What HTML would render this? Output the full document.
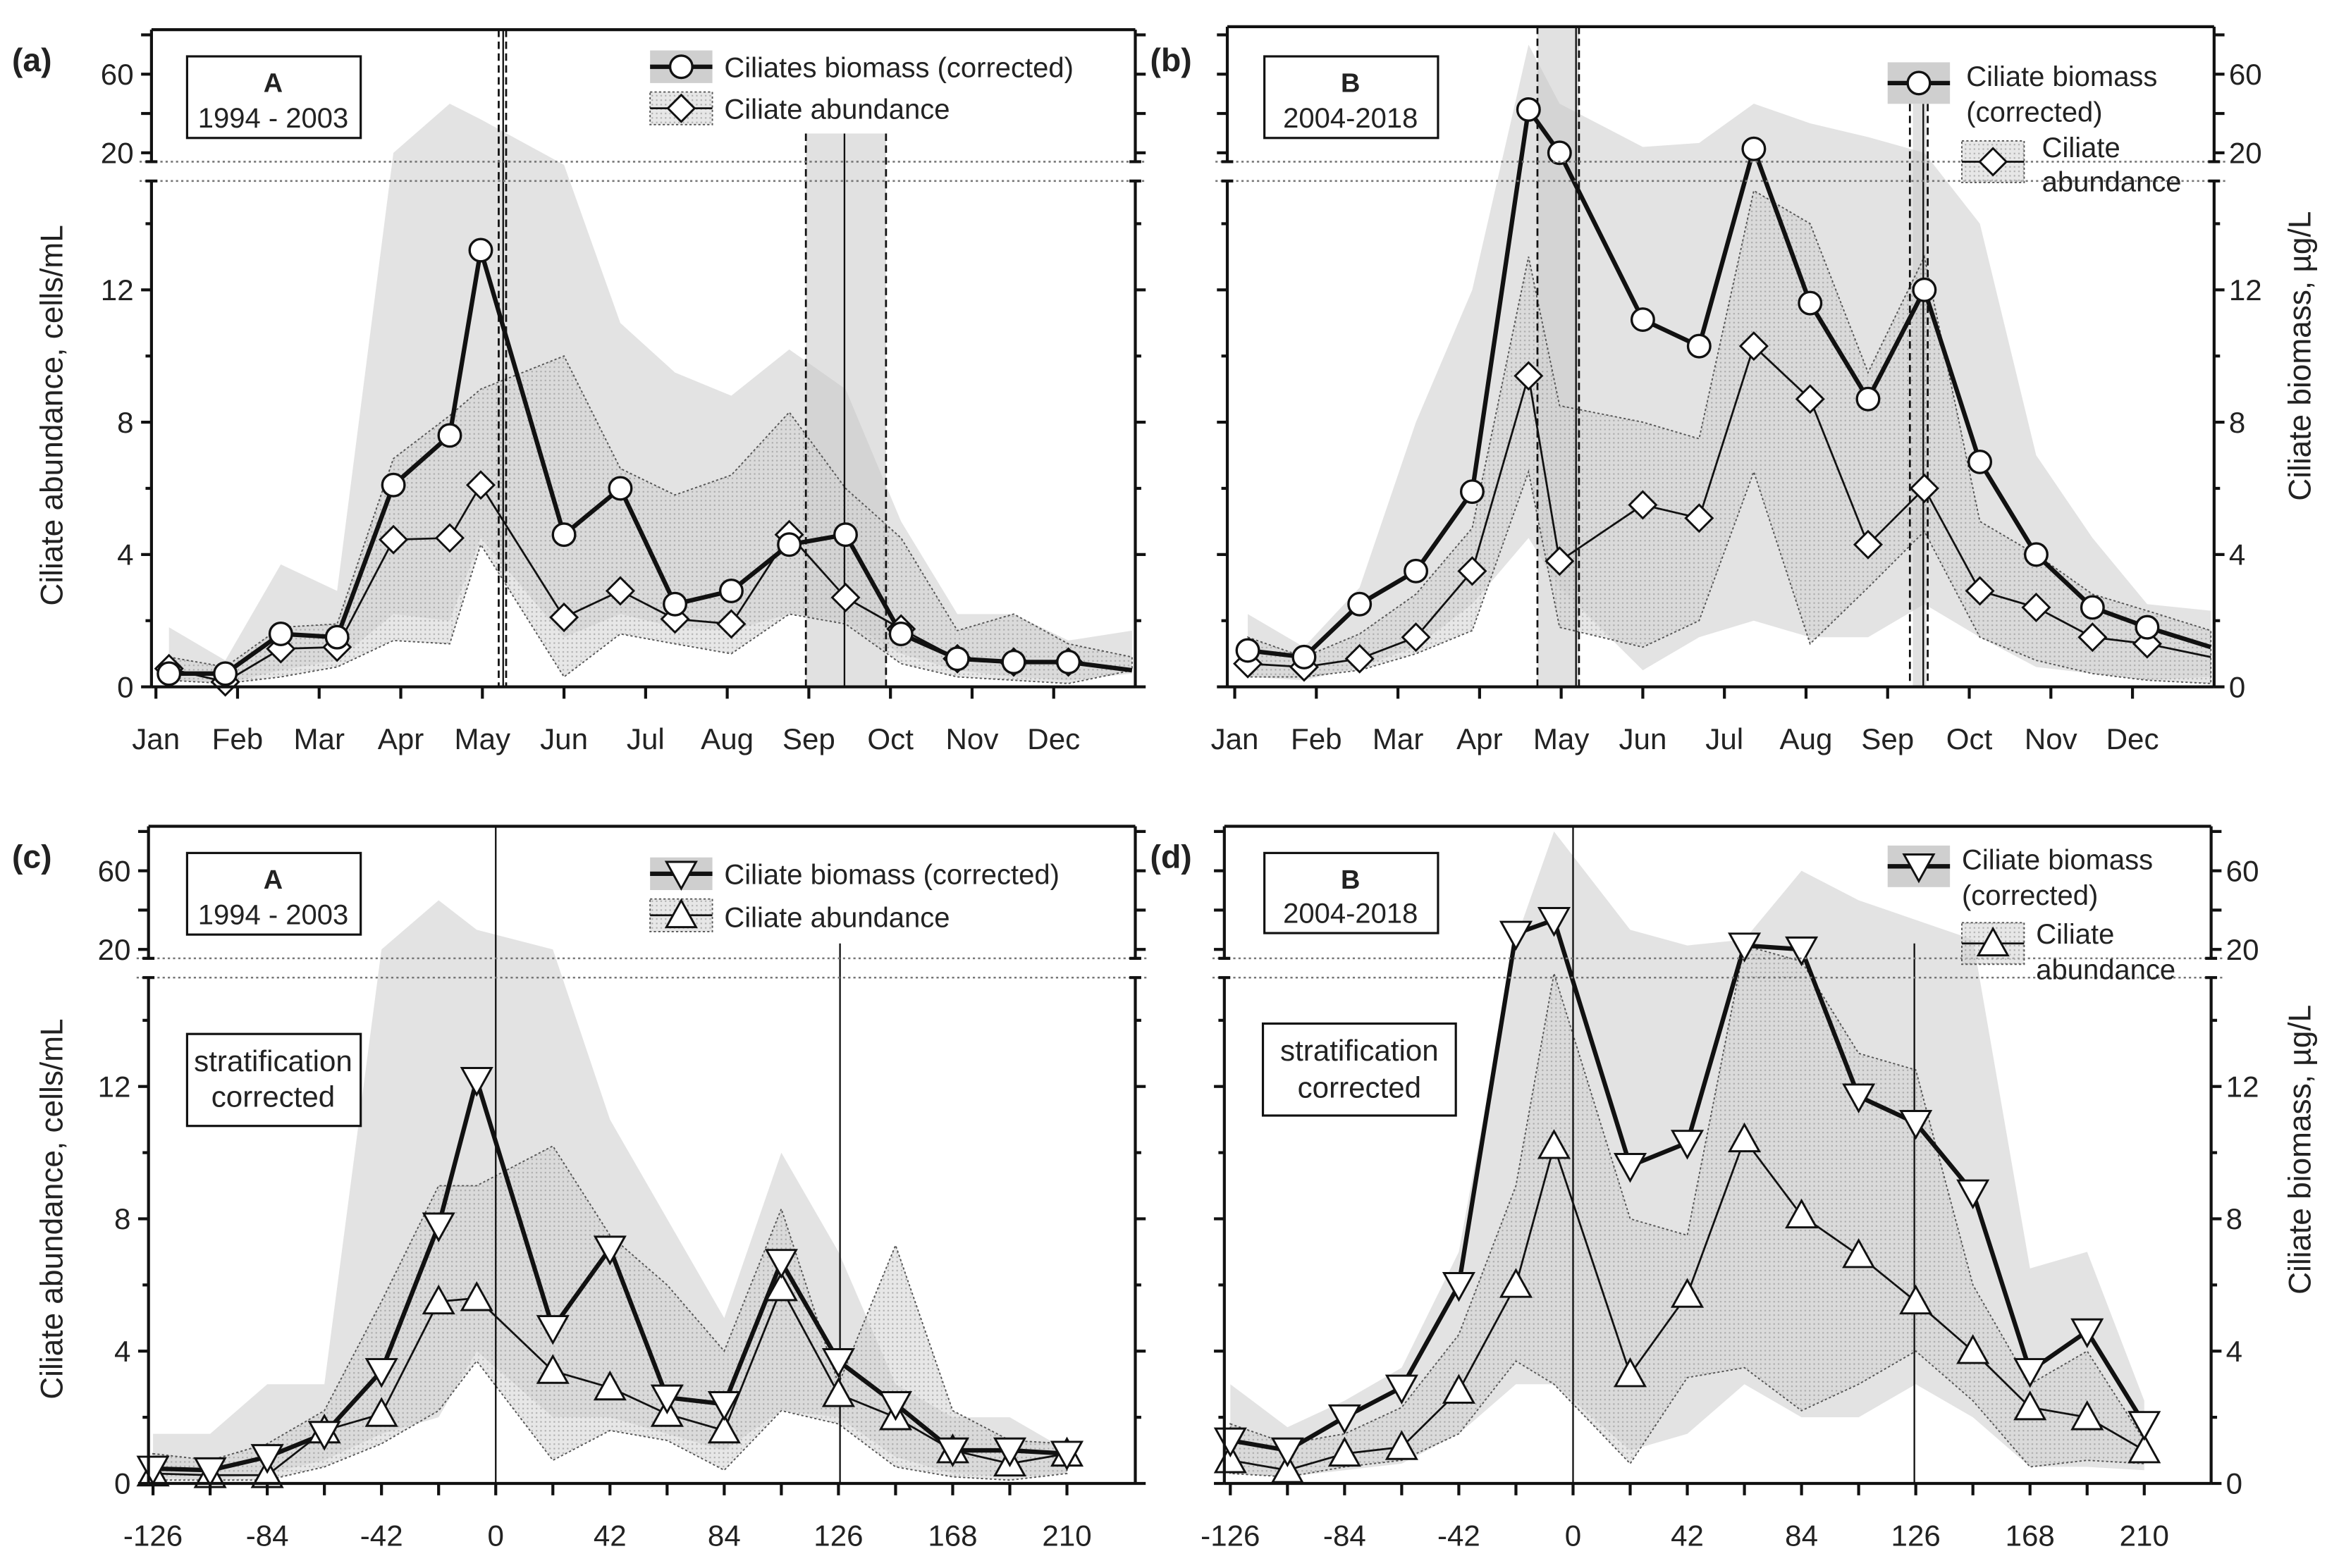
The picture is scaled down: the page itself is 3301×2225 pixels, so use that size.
<!DOCTYPE html>
<html><head><meta charset="utf-8"><style>
html,body{margin:0;padding:0;background:#fff}
svg{display:block}
text{font-family:"Liberation Sans",sans-serif;fill:#222}
</style></head><body>
<svg id="chart" width="3301" height="2225" viewBox="0 0 1568 1057" xmlns="http://www.w3.org/2000/svg">
<defs>
<pattern id="dots" width="3" height="3" patternUnits="userSpaceOnUse"><rect width="3" height="3" fill="#d2d2d2" opacity="0.55"/><rect x="1" y="1" width="1" height="1" fill="#888" opacity="0.6"/></pattern>
</defs>
</svg>
<script>
// ---- data ----
const monthLabels=["Jan","Feb","Mar","Apr","May","Jun","Jul","Aug","Sep","Oct","Nov","Dec"];
const dayTicks=[-126,-84,-42,0,42,84,126,168,210];
const monthX=[0.16,0.85,1.53,2.22,2.91,3.6,3.98,5.0,5.69,6.36,7.05,7.76,8.45,9.13,9.82,10.51,11.18,11.96];
const dayX=[-126,-105,-84,-63,-42,-21,-7,21,42,63,84,105,126,147,168,189,210];
const aBiomass=[0.4,0.4,1.6,1.5,6.1,7.6,13.2,4.6,6.0,2.5,2.9,4.3,4.6,1.6,0.85,0.75,0.75,0.5];
const aAbund=[0.55,0.15,1.15,1.2,4.45,4.5,6.1,2.1,2.9,2.05,1.9,4.6,2.7,1.75,0.85,0.75,0.75];
const aBioHi=[1.8,0.8,3.7,2.9,20,45,37,18,11,9.5,8.8,10.2,9,5,2.2,2.2,1.4,1.7];
const aBioLo=[0.2,0.1,0.5,0.8,2.2,2.0,4.5,1.5,2.2,1.8,1.7,2.2,2.0,1.0,0.5,0.3,0.2,0.4];
const aAbHi=[0.9,0.6,1.8,1.9,6.9,8.2,9.0,10.0,6.6,5.8,6.4,8.3,6.0,4.5,1.7,2.2,1.3,0.9];
const aAbLo=[0.2,0.1,0.3,0.6,1.4,1.3,4.3,0.3,1.6,1.3,1.0,2.2,1.9,0.7,0.3,0.2,0.1,0.5];
const bBiomass=[1.1,0.9,2.5,3.5,5.9,42,20,11.1,10.3,22,11.6,8.7,12.0,6.8,4.0,2.4,1.8,1.2];
const bAbund=[0.7,0.6,0.85,1.5,3.5,9.4,3.8,5.5,5.1,10.3,8.7,4.3,6.0,2.9,2.4,1.5,1.3,0.9];
const bBioHi=[2.2,1.2,3,8,12,75,45,23,25,45,35,28,20,14,7,4.5,2.5,2.3];
const bBioLo=[0.3,0.2,0.6,1.2,2.5,4.5,3,0.5,1.5,2,1.5,1.5,2.5,1.5,0.6,0.4,0.2,0.3];
const bAbHi=[1.5,0.9,1.6,2.8,4.8,13,8.5,8,7.5,15,14,9.5,13,5,4,2.8,2.3,1.7];
const bAbLo=[0.3,0.3,0.5,1,1.7,6.5,1.8,1.2,2,6.5,1.3,3,4.7,1.5,0.8,0.4,0.2,0.1];
const cBiomass=[0.45,0.4,0.8,1.5,3.4,7.8,12.2,4.7,7.1,2.6,2.4,6.7,3.7,2.4,1.0,1.0,0.9];
const cAbund=[0.3,0.25,0.25,1.6,2.1,5.5,5.6,3.4,2.9,2.1,1.6,5.9,2.7,2.0,1.0,0.6,0.9];
const cBioHi=[1.5,1.5,3,3,20,45,30,20,11,8,5,10,7,3,2,2,1];
const cBioLo=[0.2,0.1,0.3,0.7,1.5,2,4,2,2,1.5,1,2.2,2,0.8,0.3,0.2,0.3];
const cAbHi=[0.9,0.7,1.2,2.2,5.5,9,9,10.2,7.5,6,4,8.3,3,7.2,2.2,1.3,1.2];
const cAbLo=[0.1,0.1,0.1,0.5,1.2,2.2,3.7,0.7,1.6,1.3,0.4,2.2,1.8,0.5,0.2,0.1,0.3];
const dBiomass=[1.3,1.0,2.0,2.9,6.0,28,35,9.6,10.3,22,20,11.7,10.9,8.8,3.4,4.6,1.8];
const dAbund=[0.7,0.4,0.9,1.1,2.8,6.0,10.2,3.3,5.7,10.4,8.1,6.9,5.5,4.0,2.3,2.0,1.0];
const dBioHi=[3,1.7,2.5,3.5,7,25,80,30,22,25,60,45,35,25,6.5,7,2.5];
const dBioLo=[0.3,0.2,0.4,0.6,1.5,3,3,1,1.5,3,2,2,3,2,0.5,0.5,0.4];
const dAbHi=[1.8,1.2,1.5,2.3,4.5,9,16,8,7.5,22,18,13,12.5,6,3,4,1.3];
const dAbLo=[0.3,0.2,0.5,0.7,1.5,3.7,3,0.6,3.2,3.5,2.2,3,4,2.5,0.5,0.7,0.6];
const lowTicks=[0,4,8,12];
const highTicks=[20,60];

const svg=document.getElementById('chart');
const NS='http://www.w3.org/2000/svg';
function el(tag,attrs,parent,txt){const e=document.createElementNS(NS,tag);for(const k in attrs)e.setAttribute(k,attrs[k]);if(txt!==undefined)e.textContent=txt;(parent||svg).appendChild(e);return e;}
function ym(bottom,v){if(v<=15.3)return bottom-22.3*v;if(v>=20)return bottom-360-(v-20)*1.325;return bottom-341-(v-15.3)/4.7*19;}
function marker(g,type,x,y){let m;
 if(type==='circle')m=el('circle',{cx:x,cy:y,r:7.5,fill:'#fff',stroke:'#111','stroke-width':1.6},g);
 else if(type==='diamond')m=el('polygon',{points:`${x},${y-9} ${x+9},${y} ${x},${y+9} ${x-9},${y}`,fill:'#fff',stroke:'#111','stroke-width':1.4},g);
 else if(type==='down')m=el('polygon',{points:`${x-10},${y-8} ${x+10},${y-8} ${x},${y+10}`,fill:'#fff',stroke:'#111','stroke-width':1.4},g);
 else m=el('polygon',{points:`${x-10},${y+8} ${x+10},${y+8} ${x},${y-10}`,fill:'#fff',stroke:'#111','stroke-width':1.4},g);
 
 }

function panel(P){
 const g=el('g',{},svg);
 
 
 const {L,R,T,B}=P;
 const cid='clip'+P.id;
 const cp=el('clipPath',{id:cid},svg);el('rect',{x:L,y:T,width:R-L,height:B-T},cp);
 const pg=el('g',{'clip-path':`url(#${cid})`},g);
 const xs=P.xs.map(P.xf);
 function band(hi,lo,attrs,name){let pts=[];for(let i=0;i<hi.length;i++)pts.push(xs[i]+','+ym(B,hi[i]));for(let i=lo.length-1;i>=0;i--)pts.push(xs[i]+','+ym(B,lo[i]));
  const p=el('polygon',Object.assign({points:pts.join(' ')},attrs),pg);
  
  }
 band(P.bioHi,P.bioLo,{fill:'#e3e3e3'},'biomass-range-band');
 // vertical bands
 (P.vbands||[]).forEach(v=>{const r=el('rect',{x:v[0],y:v[2]||T,width:v[1]-v[0],height:B-(v[2]||T),fill:'#c8c8c8',opacity:0.55},pg);
  
  });
 band(P.abHi,P.abLo,{fill:'url(#dots)',stroke:'#555','stroke-width':0.9,'stroke-dasharray':'1.5,1.5'},'abundance-range-band');
 (P.vlines||[]).forEach(v=>{const l=el('line',{x1:v[0],x2:v[0],y1:v[2]||T,y2:B,stroke:'#111','stroke-width':v[1]==='d'?1.3:1.1,'stroke-dasharray':v[1]==='d'?'5,3':'none'},pg);
  
  });
 // lines
 function series(vals,w,name,mk,nm){const pts=vals.map((v,i)=>xs[i]+','+ym(B,v)).join(' ');
  const pl=el('polyline',{points:pts,fill:'none',stroke:'#111','stroke-width':w,'stroke-linejoin':'round'},pg);
  
  
  const n=nm===undefined?vals.length:nm;for(let i=0;i<n;i++)marker(g,mk,xs[i],ym(B,vals[i]));}
 series(P.ab,1.3,'abundance-line',P.abMk,P.abN);
 series(P.bio,3,'biomass-line',P.bioMk,P.bioN);
 // break dotted lines
 [B-354,B-341].forEach(y=>{const l=el('line',{x1:L-8,x2:R+8,y1:y,y2:y,stroke:'#777','stroke-width':1.2,'stroke-dasharray':'1.5,2'},g);
  
  });
 // frame
 const fr=el('g',{stroke:'#111','stroke-width':2,fill:'none'},g);
 
 
 el('line',{x1:L,x2:R,y1:T,y2:T},fr);el('line',{x1:L,x2:R,y1:B,y2:B},fr);
 [L,R].forEach(x=>{el('line',{x1:x,x2:x,y1:B,y2:B-341},fr);el('line',{x1:x,x2:x,y1:B-354,y2:T},fr);
  el('line',{x1:x-4,x2:x+4,y1:B-341,y2:B-341},fr);el('line',{x1:x-4,x2:x+4,y1:B-354,y2:B-354},fr);});
 // y ticks
 const tk=[];for(let v=0;v<=14;v+=2)tk.push([v,v%4===0]);[20,40,60,80].forEach(v=>tk.push([v,true]));
 tk.forEach(([v,maj])=>{const y=ym(B,v);if(y<T)return;const len=maj?7:4;
  el('line',{x1:L-len,x2:L,y1:y,y2:y},fr);el('line',{x1:R,x2:R+len,y1:y,y2:y},fr);});
 if(P.leftLabels){lowTicks.concat(highTicks).forEach(v=>{const t=el('text',{x:L-12,y:ym(B,v)+7,'text-anchor':'end','font-size':20},g,String(v));
  });}
 if(P.rightLabels){lowTicks.concat(highTicks).forEach(v=>{const t=el('text',{x:R+10,y:ym(B,v)+7,'text-anchor':'start','font-size':20},g,String(v));
  });}
 // x ticks
 P.xticks.forEach((tv,i)=>{const x=P.xf(tv);el('line',{x1:x,x2:x,y1:B,y2:B+8},fr);
  if(P.xlabels[i]!==null){const t=el('text',{x:x,y:B+42,'text-anchor':'middle','font-size':20},g,P.xlabels[i]);
  }});
 return g;}

const mTicks=[0,1,2,3,4,5,6,7,8,9,10,11];
const dTicksAll=[];for(let d=-126;d<=210;d+=21)dTicksAll.push(d);
const dLabels=dTicksAll.map(d=>dayTicks.includes(d)?String(d):null);

panel({id:'a',L:102,R:765,T:20,B:463,xs:monthX,xf:m=>105+55*m,bio:aBiomass,ab:aAbund,bioHi:aBioHi,bioLo:aBioLo,abHi:aAbHi,abLo:aAbLo,bioMk:'circle',abMk:'diamond',bioN:17,abN:17,
 leftLabels:true,xticks:mTicks,xlabels:monthLabels,vbands:[[543,597,90]],vlines:[[336,'d'],[339,'s'],[341,'d'],[543,'d',90],[569,'s',90],[597,'d',90]]});
panel({id:'b',L:827,R:1492,T:18,B:463,xs:monthX,xf:m=>832+55*m,bio:bBiomass,ab:bAbund,bioHi:bBioHi,bioLo:bBioLo,abHi:bAbHi,abLo:bAbLo,bioMk:'circle',abMk:'diamond',bioN:17,abN:17,
 rightLabels:true,xticks:mTicks,xlabels:monthLabels,vbands:[[1036,1064],[1289,1298,70]],vlines:[[1036,'d'],[1062,'s'],[1064,'d'],[1287,'d',70],[1296,'s',70],[1299,'d',70]]});
panel({id:'c',L:100,R:765,T:557,B:1000,xs:dayX,xf:d=>334+1.833*d,bio:cBiomass,ab:cAbund,bioHi:cBioHi,bioLo:cBioLo,abHi:cAbHi,abLo:cAbLo,bioMk:'down',abMk:'up',
 leftLabels:true,xticks:dTicksAll,xlabels:dLabels,vlines:[[334,'s'],[566,'s',636]]});
panel({id:'d',L:825,R:1490,T:557,B:1000,xs:dayX,xf:d=>1060+1.833*d,bio:dBiomass,ab:dAbund,bioHi:dBioHi,bioLo:dBioLo,abHi:dAbHi,abLo:dAbLo,bioMk:'down',abMk:'up',
 rightLabels:true,xticks:dTicksAll,xlabels:dLabels,vlines:[[1060,'s'],[1290,'s',636]]});

// static text: panel letters, axis titles, boxes, legends
function txt(x,y,s,size,name,extra){const t=el('text',Object.assign({x:x,y:y,'font-size':size},extra||{}),svg,s);
 
 return t;}
txt(8,48,'(a)',22,'panel-label-a',{'font-weight':'bold'});
txt(775,48,'(b)',22,'panel-label-b',{'font-weight':'bold'});
txt(8,585,'(c)',22,'panel-label-c',{'font-weight':'bold'});
txt(775,585,'(d)',22,'panel-label-d',{'font-weight':'bold'});
txt(0,0,'Ciliate abundance, cells/mL',21,'y-axis-title-left-top',{transform:'translate(42,280) rotate(-90)','text-anchor':'middle'});
txt(0,0,'Ciliate abundance, cells/mL',21,'y-axis-title-left-bottom',{transform:'translate(42,815) rotate(-90)','text-anchor':'middle'});
txt(0,0,'Ciliate biomass, µg/L',21,'y-axis-title-right-top',{transform:'translate(1557,240) rotate(-90)','text-anchor':'middle'});
txt(0,0,'Ciliate biomass, µg/L',21,'y-axis-title-right-bottom',{transform:'translate(1557,775) rotate(-90)','text-anchor':'middle'});
function box(x,y,w,h,name){const r=el('rect',{x:x,y:y,width:w,height:h,fill:'#fff',stroke:'#111','stroke-width':1.5});
 
 }
box(126,38,117,55,'period-box-a');txt(184,62,'A',18,'period-a-letter',{'text-anchor':'middle','font-weight':'bold'});txt(184,86,'1994 - 2003',19,'period-a-years',{'text-anchor':'middle'});
box(852,38,117,55,'period-box-b');txt(910,62,'B',18,'period-b-letter',{'text-anchor':'middle','font-weight':'bold'});txt(910,86,'2004-2018',19,'period-b-years',{'text-anchor':'middle'});
box(126,575,117,55,'period-box-c');txt(184,599,'A',18,'period-c-letter',{'text-anchor':'middle','font-weight':'bold'});txt(184,623,'1994 - 2003',19,'period-c-years',{'text-anchor':'middle'});
box(852,575,117,54,'period-box-d');txt(910,599,'B',18,'period-d-letter',{'text-anchor':'middle','font-weight':'bold'});txt(910,622,'2004-2018',19,'period-d-years',{'text-anchor':'middle'});
box(126,697,117,62,'stratification-box-c');txt(184,722,'stratification',20,'stratification-c-1',{'text-anchor':'middle'});txt(184,746,'corrected',20,'stratification-c-2',{'text-anchor':'middle'});
box(851,690,130,62,'stratification-box-d');txt(916,715,'stratification',20,'stratification-d-1',{'text-anchor':'middle'});txt(916,740,'corrected',20,'stratification-d-2',{'text-anchor':'middle'});

function legendSwatch(x,y,w,h,kind,mk,name){
 const g=el('g',{},svg);
 
 
 if(kind==='bio')el('rect',{x:x,y:y,width:w,height:h,fill:'#cfcfcf'},g);
 else el('rect',{x:x,y:y,width:w,height:h,fill:'url(#dots)',stroke:'#555','stroke-width':0.9,'stroke-dasharray':'1.5,1.5'},g);
 el('line',{x1:x,x2:x+w,y1:y+h/2,y2:y+h/2,stroke:'#111','stroke-width':kind==='bio'?3:1.3},g);
 marker(g,mk,x+w/2,y+h/2);}
legendSwatch(438,34,42,22,'bio','circle','legend-biomass-swatch-a');txt(488,52,'Ciliates biomass (corrected)',19,'legend-biomass-a');
legendSwatch(438,62,42,22,'ab','diamond','legend-abundance-swatch-a');txt(488,80,'Ciliate abundance',19,'legend-abundance-a');
legendSwatch(1272,42,42,28,'bio','circle','legend-biomass-swatch-b');txt(1325,58,'Ciliate biomass',19,'legend-biomass-b1');txt(1325,82,'(corrected)',19,'legend-biomass-b2');
legendSwatch(1322,95,42,28,'ab','diamond','legend-abundance-swatch-b');txt(1376,106,'Ciliate',19,'legend-abundance-b1');txt(1376,129,'abundance',19,'legend-abundance-b2');
legendSwatch(438,578,42,22,'bio','down','legend-biomass-swatch-c');txt(488,596,'Ciliate biomass (corrected)',19,'legend-biomass-c');
legendSwatch(438,606,42,22,'ab','up','legend-abundance-swatch-c');txt(488,625,'Ciliate abundance',19,'legend-abundance-c');
legendSwatch(1272,570,42,28,'bio','down','legend-biomass-swatch-d');txt(1322,586,'Ciliate biomass',19,'legend-biomass-d1');txt(1322,610,'(corrected)',19,'legend-biomass-d2');
legendSwatch(1322,622,42,28,'ab','up','legend-abundance-swatch-d');txt(1372,636,'Ciliate',19,'legend-abundance-d1');txt(1372,660,'abundance',19,'legend-abundance-d2');
</script>
</body></html>
